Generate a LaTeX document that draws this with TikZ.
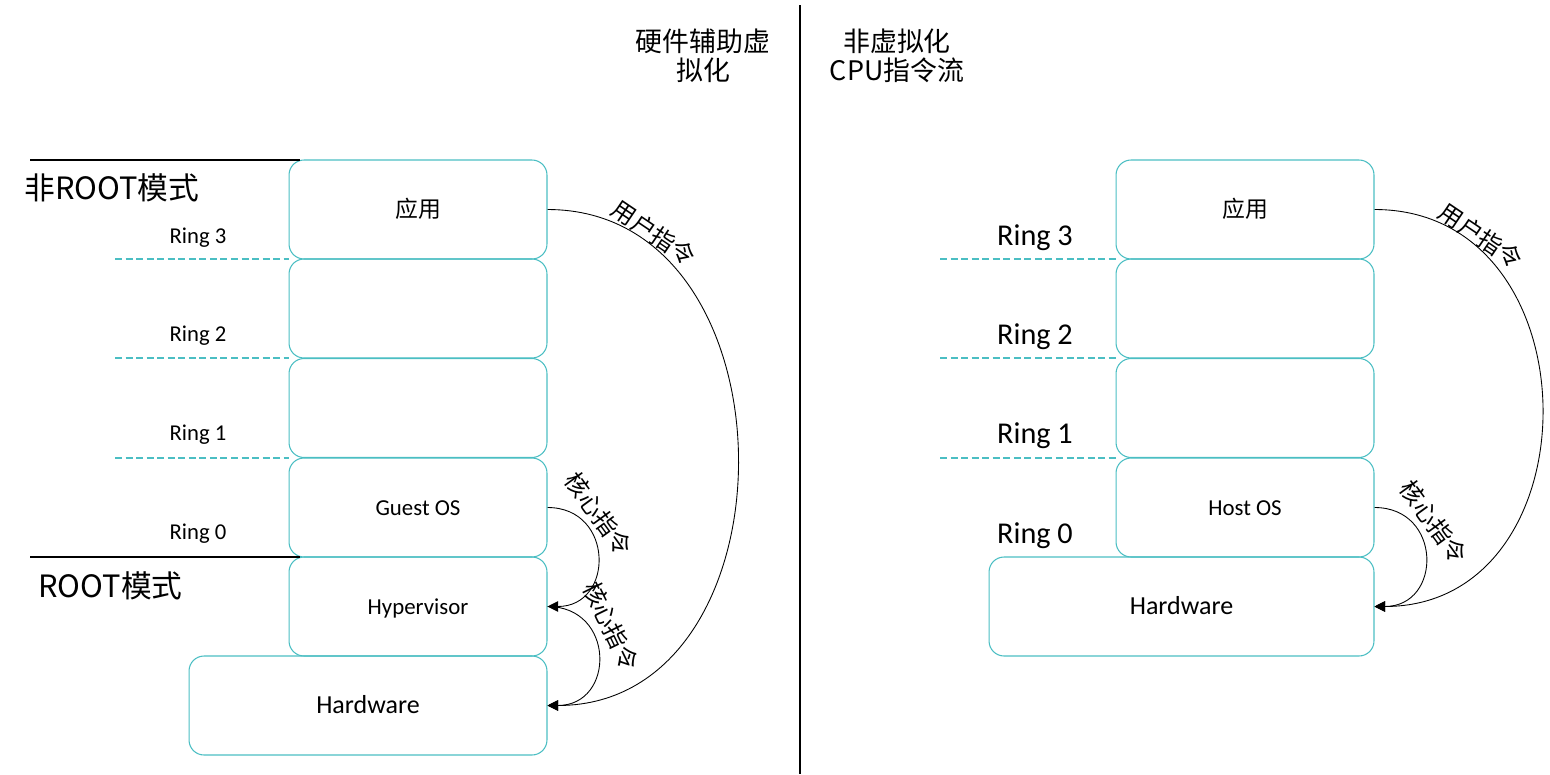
\documentclass[tikz,border=0pt]{standalone}
\usepackage{fontspec}
\setmainfont{Carlito}
\newfontfamily\cjk{Noto Sans CJK SC}
\usetikzlibrary{positioning, arrows.meta, calc}
\definecolor{ringteal}{RGB}{75, 190, 195}
\newcommand{\fsz}[1]{\fontsize{#1}{#1}\selectfont}

\begin{document}
\begin{tikzpicture}[x=0.02cm, y=-0.02cm, >={Triangle[length=6pt, width=6pt]},
    layer/.style={draw=ringteal, line width=0.6pt, rounded corners=0.3cm,
      minimum width=5.16cm, minimum height=1.98cm, inner sep=0pt,
      text height=0.95em, text depth=0em, font=\fsz{13}},
    ringline/.style={ringteal, line width=0.6pt, dash pattern=on 4pt off 2pt},
    flow/.style={->, black, line width=0.5pt},
    instr/.style={font=\cjk\fsz{13.5}, inner sep=0pt}]
  \useasboundingbox (0,0) rectangle (1550,774);
  % divider and column titles
  \draw[line width=0.6pt] (800,5) -- (800,774);
  \node[font=\cjk\fsz{15.3}, align=center] (titleL) at (703,56) {硬件辅助虚\\[1pt]拟化};
  \node[font=\cjk\fsz{15.3}, align=center] (titleR) at (897,56) {非虚拟化\\[1pt]CPU指令流};
  % Left: hardware-assisted virtualization
  \begin{scope}
    \node[layer, font=\cjk\fsz{13}] (appL) at (418,209.5) {应用};
    \node[layer] (r2L) at (418,308.5) {};
    \node[layer] (r1L) at (418,408) {};
    \node[layer] (guest) at (418,507.5) {Guest OS};
    \node[layer] (hyper) at (418,606.5) {Hypervisor};
    \node[layer, minimum width=7.16cm, font=\fsz{14.8}] (hwL) at (368,705.5) {Hardware};
    \foreach \y in {259,358,458}
      \draw[ringline] (115,\y) -- (289,\y);
    \draw[line width=0.6pt] (30,160) -- (300,160);
    \draw[line width=0.6pt] (30,557) -- (300,557);
    \node[font=\cjk\fsz{17.5}, anchor=west, inner sep=0pt] (nonroot) at (24,188) {非ROOT模式};
    \node[font=\cjk\fsz{17.5}, anchor=west, inner sep=0pt] (root) at (38,586) {ROOT模式};
    \node[font=\fsz{12.9}] (ring3L) at (198,238) {Ring 3};
    \node[font=\fsz{12.9}] (ring2L) at (198,336) {Ring 2};
    \node[font=\fsz{12.9}] (ring1L) at (198,435) {Ring 1};
    \node[font=\fsz{12.9}] (ring0L) at (198,534) {Ring 0};
    \draw[flow] (appL.east) .. controls +(253,0) and +(253,0) .. (hwL.east);
    \draw[flow] (guest.east) .. controls +(67,0) and +(67,0) .. (hyper.east);
    \draw[flow] (hyper.east) .. controls +(68,0) and +(68,0) .. (hwL.east);
    \node[instr, rotate=-34] (userL) at (654,233) {用户指令};
    \node[instr, rotate=-54] (kern1L) at (599,514) {核心指令};
    \node[instr, rotate=-64] (kern2L) at (611,626) {核心指令};
  \end{scope}
  % Right: no virtualization
  \begin{scope}
    \node[layer, font=\cjk\fsz{13}] (appR) at (1245,209.5) {应用};
    \node[layer] (r2R) at (1245,308.5) {};
    \node[layer] (r1R) at (1245,408) {};
    \node[layer] (host) at (1245,507.5) {Host OS};
    \node[layer, minimum width=7.7cm, font=\fsz{14.8}] (hwR) at (1181.5,606.5) {Hardware};
    \foreach \y in {259,358,458}
      \draw[ringline] (940,\y) -- (1116,\y);
    \node[font=\fsz{17.2}] (ring3R) at (1035,238) {Ring 3};
    \node[font=\fsz{17.2}] (ring2R) at (1035,337) {Ring 2};
    \node[font=\fsz{17.2}] (ring1R) at (1035,436) {Ring 1};
    \node[font=\fsz{17.2}] (ring0R) at (1035,536) {Ring 0};
    \draw[flow] (appR.east) .. controls +(223,0) and +(223,0) .. (hwR.east);
    \draw[flow] (host.east) .. controls +(68,0) and +(68,0) .. (hwR.east);
    \node[instr, rotate=-34] (userR) at (1481,236) {用户指令};
    \node[instr, rotate=-54] (kernR) at (1434,522) {核心指令};
  \end{scope}
\end{tikzpicture}
\end{document}
